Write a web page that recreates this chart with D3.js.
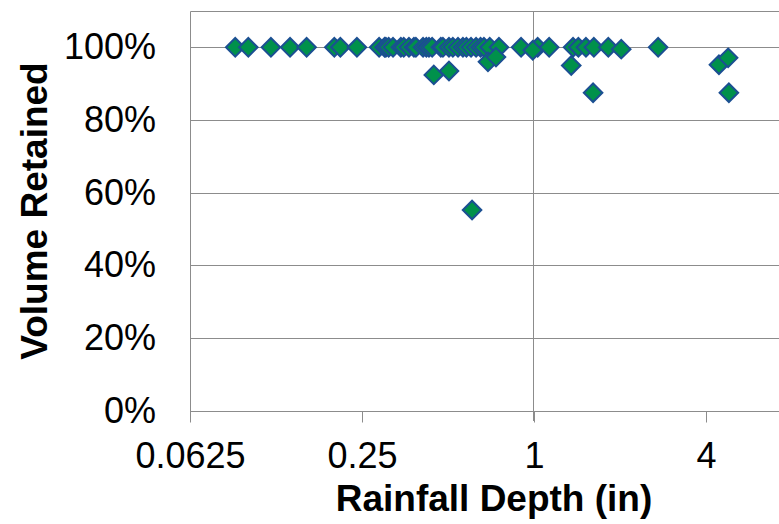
<!DOCTYPE html>
<html lang="en">
  <head>
    <meta charset="utf-8">
    <title>Volume Retained vs Rainfall Depth</title>
    <script type="text/javascript" src="https://cdn.jsdelivr.net/npm/d3@7"></script>
    <style>
      body { margin: 0; background: #fff; }
      svg { display: block; }
    </style>
  </head>
  <body>
    <script type="text/javascript">
    // rainfall depth (in) and fraction of volume retained for each storm
    var depth = [0.09, 0.10, 0.12, 0.14, 0.16, 0.20, 0.21, 0.24,
                 0.287, 0.30, 0.303, 0.31, 0.321, 0.342, 0.35, 0.365, 0.38, 0.386, 0.409,
                 0.42, 0.429, 0.44, 0.472, 0.48, 0.504, 0.52, 0.542, 0.564, 0.58, 0.602,
                 0.627, 0.65, 0.668, 0.70, 0.754, 0.901, 1.03, 1.13, 1.37, 1.43, 1.52,
                 1.62, 1.82, 2.02, 2.72,
                 0.446, 0.504, 0.607, 0.69, 0.736, 0.99, 1.35, 1.61, 4.44, 4.78, 4.81];
    var retained = [1, 1, 1, 1, 1, 1, 1, 1,
                    1, 1, 1, 1, 1, 1, 1, 1, 1, 1, 1,
                    1, 1, 1, 1, 1, 1, 1, 1, 1, 1, 1,
                    1, 1, 1, 1, 1, 1, 1, 1, 1, 1, 1,
                    1, 1, 0.995, 1,
                    0.924, 0.935, 0.552, 0.96, 0.973, 0.992, 0.95, 0.875, 0.952, 0.971, 0.875];

    var xTicks = [0.0625, 0.25, 1, 4];
    var yTicks = [0, 0.2, 0.4, 0.6, 0.8, 1];

    var w = 779;
    var h = 524;

    var svg = d3.select("body")
                .append("svg")
                .attr("width", w)
                .attr("height", h);

    var xScale = d3.scaleLog()
                   .base(2)
                   .domain([0.0625, 8])
                   .range([190, 792]);
    var yScale = d3.scaleLinear()
                   .domain([0, 1.1])
                   .range([410.5, 11]);

    var gridColor = "#8c8c8c";

    // horizontal gridlines
    svg.append("g")
       .selectAll("line")
       .data(yTicks)
       .enter()
       .append("line")
       .attr("x1", 190)
       .attr("x2", w)
       .attr("y1", function(d) { return Math.round(yScale(d)) + 0.5; })
       .attr("y2", function(d) { return Math.round(yScale(d)) + 0.5; })
       .attr("stroke", gridColor);

    // plot frame (top and left)
    svg.append("line")
       .attr("x1", 190.5).attr("x2", w)
       .attr("y1", 11.5).attr("y2", 11.5)
       .attr("stroke", gridColor);
    svg.append("line")
       .attr("x1", 190.5).attr("x2", 190.5)
       .attr("y1", 11.5).attr("y2", 421)
       .attr("stroke", gridColor);

    // vertical line at 1 in
    svg.append("line")
       .attr("x1", Math.round(xScale(1)) - 0.5).attr("x2", Math.round(xScale(1)) - 0.5)
       .attr("y1", 11.5).attr("y2", 421)
       .attr("stroke", gridColor);

    // x axis ticks and labels
    var xAxis = d3.axisBottom(xScale)
                  .tickValues(xTicks)
                  .tickSize(11)
                  .tickPadding(20)
                  .tickFormat(function(d) { return String(d); });
    var gx = svg.append("g")
                .attr("transform", "translate(0," + (Math.round(yScale(0)) + 0.5) + ")")
                .call(xAxis);
    gx.select(".domain").remove();
    gx.selectAll(".tick line").attr("stroke", gridColor);
    gx.selectAll(".tick text")
      .attr("font-family", "'Liberation Sans', Arial, sans-serif")
      .attr("font-size", 36)
      .attr("fill", "#000");

    // y axis labels
    var yAxis = d3.axisLeft(yScale)
                  .tickValues(yTicks)
                  .tickSize(0)
                  .tickPadding(34)
                  .tickFormat(d3.format(".0%"));
    var gy = svg.append("g")
                .attr("transform", "translate(190,0)")
                .call(yAxis);
    gy.select(".domain").remove();
    gy.selectAll(".tick text")
      .attr("font-family", "'Liberation Sans', Arial, sans-serif")
      .attr("font-size", 36)
      .attr("fill", "#000");

    // points
    var points = depth.map(function(d, i) { return { x: d, y: retained[i] }; });
    var diamond = d3.symbol().type(d3.symbolDiamond2).size(220);

    svg.append("g")
       .selectAll("path")
       .data(points)
       .enter()
       .append("path")
       .attr("d", diamond)
       .attr("transform", function(d) {
         return "translate(" + xScale(d.x) + "," + yScale(d.y) + ")";
       })
       .attr("fill", "#00914b")
       .attr("stroke", "#1b4f92")
       .attr("stroke-width", 2);

    // axis titles
    svg.append("text")
       .text("Rainfall Depth (in)")
       .attr("x", 494)
       .attr("y", 511)
       .attr("text-anchor", "middle")
       .attr("font-family", "'Liberation Sans', Arial, sans-serif")
       .attr("font-weight", "bold")
       .attr("font-size", 37);

    svg.append("text")
       .text("Volume Retained")
       .attr("transform", "translate(47,211) rotate(-90)")
       .attr("text-anchor", "middle")
       .attr("font-family", "'Liberation Sans', Arial, sans-serif")
       .attr("font-weight", "bold")
       .attr("font-size", 37);
    </script>
  </body>
</html>
